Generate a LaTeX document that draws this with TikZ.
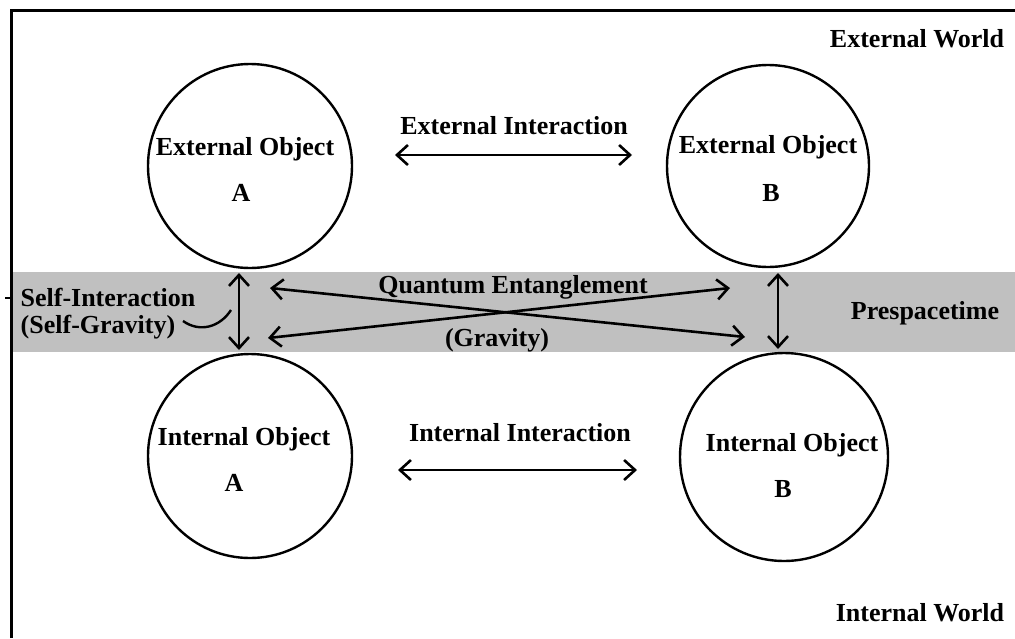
\documentclass[tikz,border=0pt]{standalone}
\usepackage{fontspec}
\setmainfont{Liberation Serif}
\usetikzlibrary{arrows.meta}
\definecolor{bandgray}{RGB}{192,192,192}
\tikzset{
  obj/.style={circle,draw=black,line width=2.4pt,minimum size=#1,inner sep=0pt},
  lbl/.style={inner sep=0pt,font=\fontsize{26}{31}\selectfont\bfseries},
  dbl/.style={line width=2.6pt,{Straight Barb[length=11pt,width=20pt,line width=2.6pt]}-{Straight Barb[length=11pt,width=20pt,line width=2.6pt]}},
  frame/.style={line width=3pt}
}
\begin{document}
\begin{tikzpicture}[x=1pt,y=-1pt]
\useasboundingbox (0,0) rectangle (1015,638);
\fill[white] (0,0) rectangle (1015,638);
% prespacetime band
\fill[bandgray] (13,272) rectangle (1015,352);
% frame
\coordinate (f1) at (11,638);
\coordinate (f2) at (11,10);
\coordinate (f3) at (1015,10);
\draw[frame] (f1) -- (f2) -- (f3);
\coordinate (t1) at (5,298);
\coordinate (t2) at (13,298);
\draw[line width=2.4pt] (t1) -- (t2);
% circles
\node[obj=204pt] (extA) at (250,166) {};
\node[obj=202pt] (extB) at (768,166) {};
\node[obj=204pt] (intA) at (250,456) {};
\node[obj=208pt] (intB) at (784,457) {};
% circle texts
\node[lbl] (extAt) at (245,149) {External Object};
\node[lbl] (extAl) at (241,193) {A};
\node[lbl] (extBt) at (768,147) {External Object};
\node[lbl] (extBl) at (771,193) {B};
\node[lbl] (intAt) at (244,439) {Internal Object};
\node[lbl] (intAl) at (234,483) {A};
\node[lbl] (intBt) at (792,445) {Internal Object};
\node[lbl] (intBl) at (783,489) {B};
% world labels
\node[lbl] (ew) at (917,39) {External World};
\node[lbl] (iw) at (920,613) {Internal World};
\node[lbl] (pst) at (925,313) {Prespacetime};
% interaction labels
\node[lbl] (eil) at (514,126) {External Interaction};
\node[lbl] (iil) at (520,433) {Internal Interaction};
\node[lbl] (qel) at (513,287) {Quantum Entanglement};
\node[lbl] (grl) at (497,340) {(Gravity)};
\node[lbl] (sil) at (108,297) {Self-Interaction};
\node[lbl] (sgl) at (98,327) {(Self-Gravity)};
% arrows
\coordinate (eiL) at (395,155); \coordinate (eiR) at (632,155);
\coordinate (iiL) at (398,470); \coordinate (iiR) at (637,470);
\draw[dbl] (eiL) -- (eiR);
\draw[dbl] (iiL) -- (iiR);
\coordinate (vA1) at (239,273); \coordinate (vA2) at (239,350);
\coordinate (vB1) at (778,273); \coordinate (vB2) at (778,349);
\draw[dbl] (vA1) -- (vA2);
\draw[dbl] (vB1) -- (vB2);
\coordinate (q1) at (270,288); \coordinate (q2) at (745,337);
\coordinate (g1) at (268,338); \coordinate (g2) at (730,288);
\draw[dbl] (q1) -- (q2);
\draw[dbl] (g1) -- (g2);
% self-interaction pointer
\coordinate (c1) at (183,321); \coordinate (c2) at (231,310);
\draw[line width=2.4pt] (c1) .. controls (200,333) and (220,327) .. (c2);
\end{tikzpicture}
\end{document}
